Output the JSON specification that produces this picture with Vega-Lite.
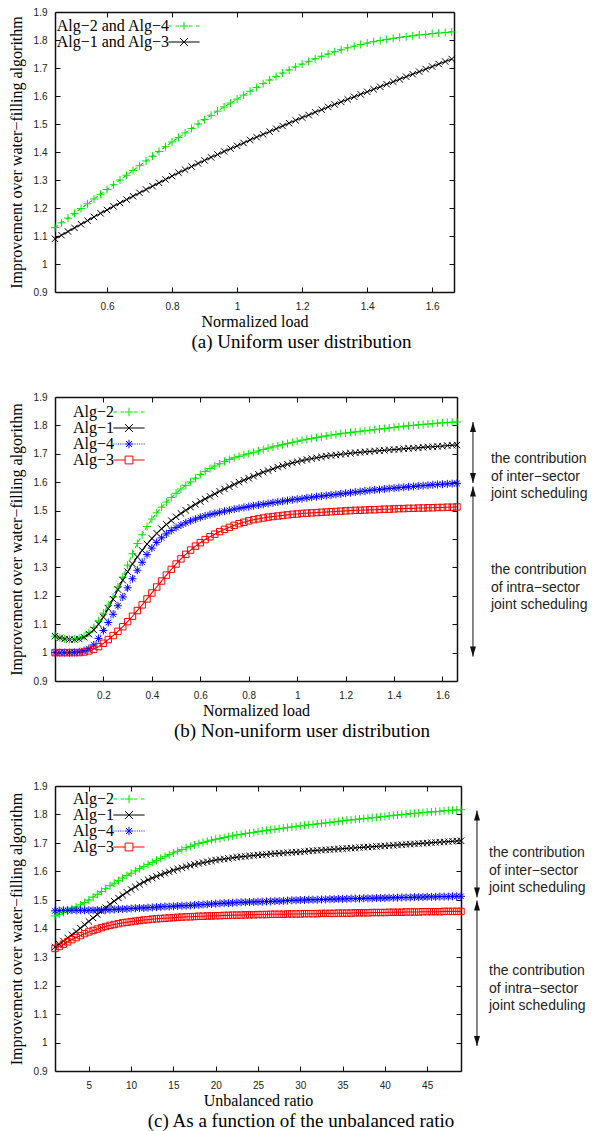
{
  "$schema": "https://vega.github.io/schema/vega-lite/v6.json",
  "padding": {"left": 8, "top": 7, "right": 0, "bottom": 0},
  "spacing": 40,
  "resolve": {"scale": {"color": "independent", "shape": "independent", "strokeDash": "independent"}, "legend": {"color": "independent", "shape": "independent"}},
  "config": {
    "view": {"stroke": null},
    "axis": {"grid": false, "domainColor": "#111", "domainWidth": 1.5, "tickColor": "#111", "tickWidth": 1, "tickSize": -5, "labelFont": "Liberation Sans", "labelFontSize": 10, "labelColor": "#222", "titleFont": "Liberation Serif", "titleFontSize": 16, "titleFontWeight": "normal", "titleColor": "black"},
    "axisBottom": {"labelPadding": 14, "titlePadding": 2},
    "axisLeft": {"labelPadding": 13, "titlePadding": 9},
    "title": {"font": "Liberation Serif", "fontSize": 19, "fontWeight": "normal", "color": "black"},
    "legend": {"labelFont": "Liberation Serif", "labelFontSize": 16, "labelColor": "black", "labelAlign": "right", "labelOffset": -23, "symbolSize": 169, "symbolStrokeWidth": 1, "padding": 0, "orient": "none", "labelLimit": 300, "rowPadding": -3}
  },
  "datasets": {
    "a": [
      {"x":0.44,"g":1.130,"k":1.090},{"x":0.46,"g":1.147,"k":1.103},{"x":0.48,"g":1.164,"k":1.116},{"x":0.5,"g":1.181,"k":1.129},{"x":0.52,"g":1.198,"k":1.142},{"x":0.54,"g":1.215,"k":1.155},{"x":0.56,"g":1.232,"k":1.168},{"x":0.58,"g":1.249,"k":1.181},{"x":0.6,"g":1.266,"k":1.193},{"x":0.62,"g":1.283,"k":1.206},{"x":0.64,"g":1.3,"k":1.218},{"x":0.66,"g":1.317,"k":1.23},{"x":0.68,"g":1.334,"k":1.242},{"x":0.7,"g":1.351,"k":1.254},{"x":0.72,"g":1.368,"k":1.266},{"x":0.74,"g":1.385,"k":1.278},{"x":0.76,"g":1.402,"k":1.29},{"x":0.78,"g":1.419,"k":1.302},{"x":0.8,"g":1.436,"k":1.314},{"x":0.82,"g":1.452,"k":1.326},{"x":0.84,"g":1.468,"k":1.337},{"x":0.86,"g":1.484,"k":1.348},{"x":0.88,"g":1.5,"k":1.359},{"x":0.9,"g":1.516,"k":1.37},{"x":0.92,"g":1.531,"k":1.381},{"x":0.94,"g":1.546,"k":1.391},{"x":0.96,"g":1.561,"k":1.402},{"x":0.98,"g":1.575,"k":1.412},{"x":1,"g":1.589,"k":1.422},{"x":1.02,"g":1.603,"k":1.432},{"x":1.04,"g":1.617,"k":1.443},{"x":1.06,"g":1.63,"k":1.453},{"x":1.08,"g":1.644,"k":1.463},{"x":1.1,"g":1.657,"k":1.473},{"x":1.12,"g":1.67,"k":1.483},{"x":1.14,"g":1.682,"k":1.493},{"x":1.16,"g":1.693,"k":1.503},{"x":1.18,"g":1.704,"k":1.513},{"x":1.2,"g":1.714,"k":1.523},{"x":1.22,"g":1.724,"k":1.532},{"x":1.24,"g":1.733,"k":1.542},{"x":1.26,"g":1.742,"k":1.551},{"x":1.28,"g":1.75,"k":1.561},{"x":1.3,"g":1.758,"k":1.57},{"x":1.32,"g":1.765,"k":1.579},{"x":1.34,"g":1.772,"k":1.588},{"x":1.36,"g":1.778,"k":1.597},{"x":1.38,"g":1.784,"k":1.606},{"x":1.4,"g":1.789,"k":1.615},{"x":1.42,"g":1.794,"k":1.624},{"x":1.44,"g":1.798,"k":1.633},{"x":1.46,"g":1.802,"k":1.642},{"x":1.48,"g":1.806,"k":1.651},{"x":1.5,"g":1.809,"k":1.66},{"x":1.52,"g":1.812,"k":1.669},{"x":1.54,"g":1.815,"k":1.678},{"x":1.56,"g":1.818,"k":1.687},{"x":1.58,"g":1.82,"k":1.696},{"x":1.6,"g":1.823,"k":1.705},{"x":1.62,"g":1.825,"k":1.714},{"x":1.64,"g":1.827,"k":1.723},{"x":1.66,"g":1.829,"k":1.732}
    ],
    "b": [
      {"x":0,"g":1.058,"k":1.058,"u":1.0,"r":1.0},{"x":0.02,"g":1.052,"k":1.052,"u":1.0,"r":1.0},{"x":0.04,"g":1.048,"k":1.048,"u":1.0,"r":1.0},{"x":0.06,"g":1.046,"k":1.046,"u":1.0,"r":1.0},{"x":0.08,"g":1.047,"k":1.046,"u":1.001,"r":1.0},{"x":0.1,"g":1.05,"k":1.048,"u":1.003,"r":1.0},{"x":0.12,"g":1.057,"k":1.054,"u":1.007,"r":1.002},{"x":0.14,"g":1.07,"k":1.065,"u":1.014,"r":1.006},{"x":0.16,"g":1.088,"k":1.08,"u":1.027,"r":1.012},{"x":0.18,"g":1.112,"k":1.1,"u":1.05,"r":1.021},{"x":0.2,"g":1.139,"k":1.125,"u":1.078,"r":1.033},{"x":0.22,"g":1.167,"k":1.155,"u":1.106,"r":1.046},{"x":0.24,"g":1.196,"k":1.188,"u":1.135,"r":1.06},{"x":0.26,"g":1.231,"k":1.222,"u":1.165,"r":1.075},{"x":0.28,"g":1.266,"k":1.255,"u":1.196,"r":1.091},{"x":0.3,"g":1.308,"k":1.285,"u":1.228,"r":1.109},{"x":0.32,"g":1.348,"k":1.312,"u":1.26,"r":1.128},{"x":0.34,"g":1.384,"k":1.337,"u":1.29,"r":1.148},{"x":0.36,"g":1.415,"k":1.36,"u":1.318,"r":1.168},{"x":0.38,"g":1.444,"k":1.382,"u":1.345,"r":1.189},{"x":0.4,"g":1.47,"k":1.402,"u":1.368,"r":1.21},{"x":0.42,"g":1.492,"k":1.42,"u":1.388,"r":1.231},{"x":0.44,"g":1.512,"k":1.436,"u":1.404,"r":1.252},{"x":0.46,"g":1.53,"k":1.451,"u":1.418,"r":1.273},{"x":0.48,"g":1.546,"k":1.465,"u":1.43,"r":1.293},{"x":0.5,"g":1.561,"k":1.478,"u":1.44,"r":1.312},{"x":0.52,"g":1.576,"k":1.49,"u":1.449,"r":1.33},{"x":0.54,"g":1.589,"k":1.501,"u":1.457,"r":1.346},{"x":0.56,"g":1.601,"k":1.512,"u":1.464,"r":1.361},{"x":0.58,"g":1.614,"k":1.522,"u":1.47,"r":1.375},{"x":0.6,"g":1.627,"k":1.532,"u":1.476,"r":1.387},{"x":0.62,"g":1.638,"k":1.541,"u":1.481,"r":1.398},{"x":0.64,"g":1.648,"k":1.55,"u":1.486,"r":1.408},{"x":0.66,"g":1.657,"k":1.559,"u":1.49,"r":1.417},{"x":0.68,"g":1.665,"k":1.568,"u":1.494,"r":1.426},{"x":0.7,"g":1.673,"k":1.576,"u":1.498,"r":1.434},{"x":0.72,"g":1.68,"k":1.584,"u":1.501,"r":1.441},{"x":0.74,"g":1.686,"k":1.592,"u":1.505,"r":1.448},{"x":0.76,"g":1.691,"k":1.6,"u":1.508,"r":1.454},{"x":0.78,"g":1.696,"k":1.607,"u":1.511,"r":1.459},{"x":0.8,"g":1.7,"k":1.614,"u":1.514,"r":1.464},{"x":0.82,"g":1.705,"k":1.621,"u":1.517,"r":1.468},{"x":0.84,"g":1.71,"k":1.628,"u":1.52,"r":1.471},{"x":0.86,"g":1.715,"k":1.635,"u":1.522,"r":1.474},{"x":0.88,"g":1.72,"k":1.641,"u":1.525,"r":1.477},{"x":0.9,"g":1.724,"k":1.647,"u":1.528,"r":1.479},{"x":0.92,"g":1.728,"k":1.653,"u":1.53,"r":1.481},{"x":0.94,"g":1.732,"k":1.658,"u":1.533,"r":1.483},{"x":0.96,"g":1.736,"k":1.663,"u":1.535,"r":1.485},{"x":0.98,"g":1.74,"k":1.668,"u":1.538,"r":1.487},{"x":1,"g":1.744,"k":1.672,"u":1.54,"r":1.488},{"x":1.02,"g":1.748,"k":1.676,"u":1.542,"r":1.49},{"x":1.04,"g":1.751,"k":1.68,"u":1.545,"r":1.491},{"x":1.06,"g":1.754,"k":1.683,"u":1.547,"r":1.492},{"x":1.08,"g":1.757,"k":1.686,"u":1.549,"r":1.493},{"x":1.1,"g":1.76,"k":1.689,"u":1.551,"r":1.494},{"x":1.12,"g":1.763,"k":1.692,"u":1.553,"r":1.495},{"x":1.14,"g":1.766,"k":1.694,"u":1.555,"r":1.496},{"x":1.16,"g":1.768,"k":1.696,"u":1.557,"r":1.497},{"x":1.18,"g":1.771,"k":1.698,"u":1.559,"r":1.498},{"x":1.2,"g":1.773,"k":1.7,"u":1.561,"r":1.499},{"x":1.22,"g":1.775,"k":1.702,"u":1.563,"r":1.5},{"x":1.24,"g":1.777,"k":1.704,"u":1.565,"r":1.501},{"x":1.26,"g":1.779,"k":1.705,"u":1.567,"r":1.501},{"x":1.28,"g":1.781,"k":1.707,"u":1.569,"r":1.502},{"x":1.3,"g":1.783,"k":1.708,"u":1.571,"r":1.503},{"x":1.32,"g":1.785,"k":1.71,"u":1.573,"r":1.503},{"x":1.34,"g":1.787,"k":1.711,"u":1.574,"r":1.504},{"x":1.36,"g":1.789,"k":1.712,"u":1.576,"r":1.505},{"x":1.38,"g":1.791,"k":1.714,"u":1.578,"r":1.505},{"x":1.4,"g":1.793,"k":1.715,"u":1.579,"r":1.506},{"x":1.42,"g":1.795,"k":1.716,"u":1.581,"r":1.507},{"x":1.44,"g":1.797,"k":1.718,"u":1.582,"r":1.507},{"x":1.46,"g":1.799,"k":1.719,"u":1.584,"r":1.508},{"x":1.48,"g":1.8,"k":1.72,"u":1.585,"r":1.508},{"x":1.5,"g":1.802,"k":1.721,"u":1.587,"r":1.509},{"x":1.52,"g":1.803,"k":1.723,"u":1.588,"r":1.509},{"x":1.54,"g":1.805,"k":1.724,"u":1.589,"r":1.51},{"x":1.56,"g":1.806,"k":1.725,"u":1.591,"r":1.51},{"x":1.58,"g":1.808,"k":1.726,"u":1.592,"r":1.511},{"x":1.6,"g":1.809,"k":1.727,"u":1.593,"r":1.511},{"x":1.62,"g":1.81,"k":1.729,"u":1.594,"r":1.512},{"x":1.64,"g":1.811,"k":1.73,"u":1.595,"r":1.512},{"x":1.66,"g":1.812,"k":1.731,"u":1.596,"r":1.513}
    ],
    "c": [
      {"x":1,"g":1.444,"k":1.335,"u":1.462,"r":1.33},{"x":1.5,"g":1.45,"k":1.345,"u":1.463,"r":1.337},{"x":2,"g":1.456,"k":1.356,"u":1.464,"r":1.345},{"x":2.5,"g":1.462,"k":1.367,"u":1.464,"r":1.353},{"x":3,"g":1.469,"k":1.378,"u":1.464,"r":1.361},{"x":3.5,"g":1.476,"k":1.389,"u":1.464,"r":1.368},{"x":4,"g":1.483,"k":1.401,"u":1.464,"r":1.375},{"x":4.5,"g":1.491,"k":1.413,"u":1.464,"r":1.382},{"x":5,"g":1.5,"k":1.425,"u":1.464,"r":1.388},{"x":5.5,"g":1.51,"k":1.437,"u":1.464,"r":1.393},{"x":6,"g":1.52,"k":1.449,"u":1.465,"r":1.398},{"x":6.5,"g":1.53,"k":1.461,"u":1.465,"r":1.403},{"x":7,"g":1.54,"k":1.473,"u":1.466,"r":1.407},{"x":7.5,"g":1.55,"k":1.485,"u":1.466,"r":1.411},{"x":8,"g":1.559,"k":1.496,"u":1.467,"r":1.414},{"x":8.5,"g":1.568,"k":1.507,"u":1.468,"r":1.417},{"x":9,"g":1.577,"k":1.517,"u":1.468,"r":1.42},{"x":9.5,"g":1.586,"k":1.527,"u":1.469,"r":1.422},{"x":10,"g":1.594,"k":1.537,"u":1.47,"r":1.424},{"x":10.5,"g":1.602,"k":1.546,"u":1.471,"r":1.426},{"x":11,"g":1.61,"k":1.555,"u":1.472,"r":1.428},{"x":11.5,"g":1.618,"k":1.563,"u":1.472,"r":1.43},{"x":12,"g":1.625,"k":1.571,"u":1.473,"r":1.431},{"x":12.5,"g":1.632,"k":1.577,"u":1.474,"r":1.433},{"x":13,"g":1.639,"k":1.583,"u":1.475,"r":1.434},{"x":13.5,"g":1.646,"k":1.589,"u":1.476,"r":1.435},{"x":14,"g":1.652,"k":1.594,"u":1.477,"r":1.436},{"x":14.5,"g":1.659,"k":1.599,"u":1.477,"r":1.437},{"x":15,"g":1.665,"k":1.604,"u":1.478,"r":1.438},{"x":15.5,"g":1.671,"k":1.609,"u":1.479,"r":1.439},{"x":16,"g":1.677,"k":1.613,"u":1.48,"r":1.44},{"x":16.5,"g":1.683,"k":1.617,"u":1.48,"r":1.441},{"x":17,"g":1.688,"k":1.621,"u":1.481,"r":1.441},{"x":17.5,"g":1.693,"k":1.625,"u":1.482,"r":1.442},{"x":18,"g":1.698,"k":1.628,"u":1.483,"r":1.443},{"x":18.5,"g":1.702,"k":1.631,"u":1.484,"r":1.443},{"x":19,"g":1.706,"k":1.634,"u":1.485,"r":1.444},{"x":19.5,"g":1.71,"k":1.637,"u":1.486,"r":1.444},{"x":20,"g":1.713,"k":1.64,"u":1.487,"r":1.445},{"x":20.5,"g":1.716,"k":1.642,"u":1.488,"r":1.445},{"x":21,"g":1.719,"k":1.644,"u":1.489,"r":1.446},{"x":21.5,"g":1.722,"k":1.646,"u":1.489,"r":1.446},{"x":22,"g":1.725,"k":1.648,"u":1.49,"r":1.447},{"x":22.5,"g":1.728,"k":1.65,"u":1.491,"r":1.447},{"x":23,"g":1.73,"k":1.652,"u":1.492,"r":1.447},{"x":23.5,"g":1.733,"k":1.653,"u":1.492,"r":1.448},{"x":24,"g":1.735,"k":1.655,"u":1.493,"r":1.448},{"x":24.5,"g":1.737,"k":1.656,"u":1.493,"r":1.448},{"x":25,"g":1.74,"k":1.658,"u":1.494,"r":1.449},{"x":25.5,"g":1.742,"k":1.659,"u":1.494,"r":1.449},{"x":26,"g":1.744,"k":1.66,"u":1.495,"r":1.449},{"x":26.5,"g":1.746,"k":1.662,"u":1.495,"r":1.45},{"x":27,"g":1.748,"k":1.663,"u":1.496,"r":1.45},{"x":27.5,"g":1.75,"k":1.664,"u":1.496,"r":1.45},{"x":28,"g":1.752,"k":1.665,"u":1.497,"r":1.45},{"x":28.5,"g":1.754,"k":1.666,"u":1.498,"r":1.451},{"x":29,"g":1.756,"k":1.667,"u":1.499,"r":1.451},{"x":29.5,"g":1.758,"k":1.668,"u":1.499,"r":1.451},{"x":30,"g":1.76,"k":1.669,"u":1.5,"r":1.451},{"x":30.5,"g":1.762,"k":1.67,"u":1.5,"r":1.452},{"x":31,"g":1.764,"k":1.672,"u":1.501,"r":1.452},{"x":31.5,"g":1.765,"k":1.673,"u":1.501,"r":1.452},{"x":32,"g":1.767,"k":1.674,"u":1.501,"r":1.452},{"x":32.5,"g":1.769,"k":1.675,"u":1.502,"r":1.453},{"x":33,"g":1.77,"k":1.676,"u":1.502,"r":1.453},{"x":33.5,"g":1.772,"k":1.677,"u":1.503,"r":1.453},{"x":34,"g":1.774,"k":1.678,"u":1.503,"r":1.453},{"x":34.5,"g":1.776,"k":1.679,"u":1.504,"r":1.454},{"x":35,"g":1.778,"k":1.68,"u":1.504,"r":1.454},{"x":35.5,"g":1.78,"k":1.681,"u":1.504,"r":1.454},{"x":36,"g":1.781,"k":1.682,"u":1.505,"r":1.454},{"x":36.5,"g":1.783,"k":1.683,"u":1.505,"r":1.455},{"x":37,"g":1.784,"k":1.684,"u":1.505,"r":1.455},{"x":37.5,"g":1.786,"k":1.685,"u":1.506,"r":1.455},{"x":38,"g":1.787,"k":1.686,"u":1.506,"r":1.455},{"x":38.5,"g":1.789,"k":1.687,"u":1.506,"r":1.456},{"x":39,"g":1.79,"k":1.688,"u":1.507,"r":1.456},{"x":39.5,"g":1.792,"k":1.689,"u":1.507,"r":1.456},{"x":40,"g":1.793,"k":1.69,"u":1.507,"r":1.456},{"x":40.5,"g":1.795,"k":1.691,"u":1.508,"r":1.457},{"x":41,"g":1.797,"k":1.692,"u":1.508,"r":1.457},{"x":41.5,"g":1.798,"k":1.693,"u":1.508,"r":1.457},{"x":42,"g":1.8,"k":1.694,"u":1.509,"r":1.457},{"x":42.5,"g":1.801,"k":1.695,"u":1.509,"r":1.458},{"x":43,"g":1.803,"k":1.696,"u":1.509,"r":1.458},{"x":43.5,"g":1.804,"k":1.697,"u":1.51,"r":1.458},{"x":44,"g":1.805,"k":1.698,"u":1.51,"r":1.458},{"x":44.5,"g":1.807,"k":1.699,"u":1.51,"r":1.459},{"x":45,"g":1.808,"k":1.7,"u":1.511,"r":1.459},{"x":45.5,"g":1.809,"k":1.701,"u":1.511,"r":1.459},{"x":46,"g":1.81,"k":1.702,"u":1.511,"r":1.459},{"x":46.5,"g":1.811,"k":1.703,"u":1.512,"r":1.459},{"x":47,"g":1.813,"k":1.704,"u":1.512,"r":1.46},{"x":47.5,"g":1.814,"k":1.705,"u":1.512,"r":1.46},{"x":48,"g":1.815,"k":1.706,"u":1.513,"r":1.46},{"x":48.5,"g":1.816,"k":1.707,"u":1.513,"r":1.46},{"x":49,"g":1.817,"k":1.708,"u":1.513,"r":1.46}
    ],
    "arrB": [{"y1":1.812,"y2":1.597},{"y1":1.585,"y2":0.986}],
    "txtB": [{"t":["the contribution","of inter−sector","joint scheduling"],"y":1.682},{"t":["the contribution","of intra−sector","joint scheduling"],"y":1.291}],
    "arrC": [{"y1":1.814,"y2":1.509},{"y1":1.498,"y2":0.988}],
    "txtC": [{"t":["the contribution","of inter−sector","joint scheduling"],"y":1.664},{"t":["the contribution","of intra−sector","joint scheduling"],"y":1.251}]
  },
  "vconcat": [
    {
      "width": 399, "height": 280,
      "title": {"text": "(a) Uniform user distribution", "orient": "bottom", "dx": 47, "offset": 3.5},
      "resolve": {"scale": {"color": "independent", "shape": "independent", "strokeDash": "independent"}, "axis": {"x": "independent", "y": "independent"}},
      "layer": [
        {
          "data": {"name": "a"},
          "transform": [{"fold": ["g", "k"], "as": ["alg", "val"]}],
          "mark": {"type": "line", "strokeWidth": 1.1, "clip": false},
          "encoding": {
            "x": {"field": "x", "type": "quantitative", "scale": {"domain": [0.44, 1.667], "nice": false, "zero": false}, "axis": {"orient": "bottom", "values": [0.6, 0.8, 1, 1.2, 1.4, 1.6], "format": "~g", "title": "Normalized load"}},
            "y": {"field": "val", "type": "quantitative", "scale": {"domain": [0.9, 1.9], "nice": false, "zero": false}, "axis": {"orient": "left", "values": [0.9, 1, 1.1, 1.2, 1.3, 1.4, 1.5, 1.6, 1.7, 1.8, 1.9], "format": "~g", "title": "Improvement over water−filling algorithm"}},
            "color": {"field": "alg", "type": "nominal", "scale": {"domain": ["g", "k"], "range": ["#00e600", "#000000"]}, "legend": null},
            "strokeDash": {"field": "alg", "type": "nominal", "scale": {"domain": ["g", "k"], "range": [[4, 3], [1, 0]]}, "legend": null}
          }
        },
        {
          "data": {"name": "a"},
          "transform": [{"fold": ["g", "k"], "as": ["alg", "val"]}],
          "mark": {"type": "point", "filled": false, "strokeWidth": 1, "size": 64, "opacity": 1, "clip": false},
          "encoding": {
            "x": {"field": "x", "type": "quantitative", "axis": {"orient": "top", "values": [0.6, 0.8, 1, 1.2, 1.4, 1.6], "labels": false, "title": null}},
            "y": {"field": "val", "type": "quantitative", "axis": {"orient": "right", "values": [0.9, 1, 1.1, 1.2, 1.3, 1.4, 1.5, 1.6, 1.7, 1.8, 1.9], "labels": false, "title": null}},
            "color": {"field": "alg", "type": "nominal", "scale": {"domain": ["g", "k"], "range": ["#00e600", "#000000"]}, "legend": null},
            "shape": {"field": "alg", "type": "nominal", "scale": {"domain": ["g", "k"], "range": ["M-1,0H1M0,-1V1", "M-0.8,-0.8L0.8,0.8M-0.8,0.8L0.8,-0.8"]}, "legend": null}
          }
        },
        {
          "data": {"name": "a"},
          "transform": [{"fold": ["g", "k"], "as": ["alg", "val"]}, {"filter": "false"}],
          "mark": {"type": "point", "filled": false, "strokeWidth": 1, "opacity": 1},
          "encoding": {
            "x": {"field": "x", "type": "quantitative", "axis": null},
            "y": {"field": "val", "type": "quantitative", "axis": null},
            "color": {"field": "alg", "type": "nominal", "scale": {"domain": ["g", "k"], "range": ["#00e600", "#000000"]},
              "legend": {"title": null, "legendX": 121, "legendY": 6, "labelExpr": "datum.value == 'g' ? 'Alg−2 and Alg−4' : 'Alg−1 and Alg−3'"}},
            "shape": {"field": "alg", "type": "nominal", "scale": {"domain": ["g", "k"], "range": ["M-2.4,0H-1.85M-1.3,0H-0.75M0.75,0H1.3M1.85,0H2.4M-0.65,0H0.65M0,-0.65V0.65", "M-2.4,0H2.4M-0.6,-0.6L0.6,0.6M-0.6,0.6L0.6,-0.6"]}, "legend": {"title": null}}
          }
        }
      ]
    },
    {
      "width": 402, "height": 284,
      "title": {"text": "(b) Non-uniform user distribution", "orient": "bottom", "dx": 46, "offset": 3.5},
      "resolve": {"scale": {"color": "independent", "shape": "independent", "strokeDash": "independent"}, "axis": {"x": "independent", "y": "independent"}},
      "layer": [
        {
          "data": {"name": "b"},
          "transform": [{"fold": ["g", "k", "u", "r"], "as": ["alg", "val"]}],
          "mark": {"type": "line", "strokeWidth": 1.1, "clip": false},
          "encoding": {
            "x": {"field": "x", "type": "quantitative", "scale": {"domain": [0, 1.66], "nice": false, "zero": false}, "axis": {"orient": "bottom", "values": [0.2, 0.4, 0.6, 0.8, 1, 1.2, 1.4, 1.6], "format": "~g", "title": "Normalized load"}},
            "y": {"field": "val", "type": "quantitative", "scale": {"domain": [0.9, 1.9], "nice": false, "zero": false}, "axis": {"orient": "left", "values": [0.9, 1, 1.1, 1.2, 1.3, 1.4, 1.5, 1.6, 1.7, 1.8, 1.9], "format": "~g", "title": "Improvement over water−filling algorithm"}},
            "color": {"field": "alg", "type": "nominal", "scale": {"domain": ["g", "k", "u", "r"], "range": ["#00e600", "#000000", "#0000ff", "#ff0000"]}, "legend": null},
            "strokeDash": {"field": "alg", "type": "nominal", "scale": {"domain": ["g", "k", "u", "r"], "range": [[4, 3], [1, 0], [1, 3], [1, 0]]}, "legend": null}
          }
        },
        {
          "data": {"name": "b"},
          "transform": [{"fold": ["g", "k", "u", "r"], "as": ["alg", "val"]}],
          "mark": {"type": "point", "filled": false, "strokeWidth": 1, "size": 64, "opacity": 1, "clip": false},
          "encoding": {
            "x": {"field": "x", "type": "quantitative", "axis": {"orient": "top", "values": [0.2, 0.4, 0.6, 0.8, 1, 1.2, 1.4, 1.6], "labels": false, "title": null}},
            "y": {"field": "val", "type": "quantitative", "axis": {"orient": "right", "values": [0.9, 1, 1.1, 1.2, 1.3, 1.4, 1.5, 1.6, 1.7, 1.8, 1.9], "labels": false, "title": null}},
            "color": {"field": "alg", "type": "nominal", "scale": {"domain": ["g", "k", "u", "r"], "range": ["#00e600", "#000000", "#0000ff", "#ff0000"]}, "legend": null},
            "shape": {"field": "alg", "type": "nominal", "scale": {"domain": ["g", "k", "u", "r"], "range": ["M-1,0H1M0,-1V1", "M-0.8,-0.8L0.8,0.8M-0.8,0.8L0.8,-0.8", "M-1,0H1M0,-1V1M-0.7,-0.7L0.7,0.7M-0.7,0.7L0.7,-0.7", "M-0.8,-0.8H0.8V0.8H-0.8Z"]}, "legend": null}
          }
        },
        {
          "data": {"name": "b"},
          "transform": [{"fold": ["g", "k", "u", "r"], "as": ["alg", "val"]}, {"filter": "false"}],
          "mark": {"type": "point", "filled": false, "strokeWidth": 1, "opacity": 1},
          "encoding": {
            "x": {"field": "x", "type": "quantitative", "axis": null},
            "y": {"field": "val", "type": "quantitative", "axis": null},
            "color": {"field": "alg", "type": "nominal", "scale": {"domain": ["g", "k", "u", "r"], "range": ["#00e600", "#000000", "#0000ff", "#ff0000"]},
              "legend": {"title": null, "legendX": 66, "legendY": 7, "labelExpr": "datum.value == 'g' ? 'Alg−2' : datum.value == 'k' ? 'Alg−1' : datum.value == 'u' ? 'Alg−4' : 'Alg−3'"}},
            "shape": {"field": "alg", "type": "nominal", "scale": {"domain": ["g", "k", "u", "r"], "range": ["M-2.4,0H-1.85M-1.3,0H-0.75M0.75,0H1.3M1.85,0H2.4M-0.65,0H0.65M0,-0.65V0.65", "M-2.4,0H2.4M-0.6,-0.6L0.6,0.6M-0.6,0.6L0.6,-0.6", "M-2.4,0H-2.25M-2.05,0H-1.9M-1.7,0H-1.55M-1.35,0H-1.2M-1,0H-0.85M0.85,0H1M1.2,0H1.35M1.55,0H1.7M1.9,0H2.05M2.25,0H2.4M-0.65,0H0.65M0,-0.65V0.65M-0.46,-0.46L0.46,0.46M-0.46,0.46L0.46,-0.46", "M-2.4,0H-0.6M0.6,0H2.4M-0.6,-0.6H0.6V0.6H-0.6Z"]}, "legend": {"title": null}}
          }
        },
        {
          "data": {"name": "arrB"},
          "mark": {"type": "rule", "color": "#111", "strokeWidth": 1, "clip": false},
          "encoding": {"x": {"datum": 1.726, "type": "quantitative", "axis": null}, "y": {"field": "y1", "type": "quantitative", "axis": null}, "y2": {"field": "y2"}}
        },
        {
          "data": {"name": "arrB"},
          "mark": {"type": "point", "shape": "M0,0L-0.3,1L0.3,1Z", "filled": true, "color": "#111", "size": 400, "opacity": 1, "clip": false},
          "encoding": {"x": {"datum": 1.726, "type": "quantitative", "axis": null}, "y": {"field": "y1", "type": "quantitative", "axis": null}}
        },
        {
          "data": {"name": "arrB"},
          "mark": {"type": "point", "shape": "M0,0L-0.3,-1L0.3,-1Z", "filled": true, "color": "#111", "size": 400, "opacity": 1, "clip": false},
          "encoding": {"x": {"datum": 1.726, "type": "quantitative", "axis": null}, "y": {"field": "y2", "type": "quantitative", "axis": null}}
        },
        {
          "data": {"name": "txtB"},
          "mark": {"type": "text", "align": "left", "baseline": "middle", "font": "Liberation Sans", "fontSize": 14, "lineHeight": 17.6, "color": "#222", "clip": false},
          "encoding": {"x": {"datum": 1.8, "type": "quantitative", "axis": null}, "y": {"field": "y", "type": "quantitative", "axis": null}, "text": {"field": "t"}}
        }
      ]
    },
    {
      "width": 406, "height": 285,
      "title": {"text": "(c) As a function of the unbalanced ratio", "orient": "bottom", "dx": 43, "offset": 3.5},
      "resolve": {"scale": {"color": "independent", "shape": "independent", "strokeDash": "independent"}, "axis": {"x": "independent", "y": "independent"}},
      "layer": [
        {
          "data": {"name": "c"},
          "transform": [{"fold": ["g", "k", "u", "r"], "as": ["alg", "val"]}],
          "mark": {"type": "line", "strokeWidth": 1.1, "clip": false},
          "encoding": {
            "x": {"field": "x", "type": "quantitative", "scale": {"domain": [1, 49], "nice": false, "zero": false}, "axis": {"orient": "bottom", "values": [5, 10, 15, 20, 25, 30, 35, 40, 45], "format": "~g", "title": "Unbalanced ratio"}},
            "y": {"field": "val", "type": "quantitative", "scale": {"domain": [0.9, 1.9], "nice": false, "zero": false}, "axis": {"orient": "left", "values": [0.9, 1, 1.1, 1.2, 1.3, 1.4, 1.5, 1.6, 1.7, 1.8, 1.9], "format": "~g", "title": "Improvement over water−filling algorithm"}},
            "color": {"field": "alg", "type": "nominal", "scale": {"domain": ["g", "k", "u", "r"], "range": ["#00e600", "#000000", "#0000ff", "#ff0000"]}, "legend": null},
            "strokeDash": {"field": "alg", "type": "nominal", "scale": {"domain": ["g", "k", "u", "r"], "range": [[4, 3], [1, 0], [1, 3], [1, 0]]}, "legend": null}
          }
        },
        {
          "data": {"name": "c"},
          "transform": [{"fold": ["g", "k", "u", "r"], "as": ["alg", "val"]}],
          "mark": {"type": "point", "filled": false, "strokeWidth": 1, "size": 64, "opacity": 1, "clip": false},
          "encoding": {
            "x": {"field": "x", "type": "quantitative", "axis": {"orient": "top", "values": [5, 10, 15, 20, 25, 30, 35, 40, 45], "labels": false, "title": null}},
            "y": {"field": "val", "type": "quantitative", "axis": {"orient": "right", "values": [0.9, 1, 1.1, 1.2, 1.3, 1.4, 1.5, 1.6, 1.7, 1.8, 1.9], "labels": false, "title": null}},
            "color": {"field": "alg", "type": "nominal", "scale": {"domain": ["g", "k", "u", "r"], "range": ["#00e600", "#000000", "#0000ff", "#ff0000"]}, "legend": null},
            "shape": {"field": "alg", "type": "nominal", "scale": {"domain": ["g", "k", "u", "r"], "range": ["M-1,0H1M0,-1V1", "M-0.8,-0.8L0.8,0.8M-0.8,0.8L0.8,-0.8", "M-1,0H1M0,-1V1M-0.7,-0.7L0.7,0.7M-0.7,0.7L0.7,-0.7", "M-0.8,-0.8H0.8V0.8H-0.8Z"]}, "legend": null}
          }
        },
        {
          "data": {"name": "c"},
          "transform": [{"fold": ["g", "k", "u", "r"], "as": ["alg", "val"]}, {"filter": "false"}],
          "mark": {"type": "point", "filled": false, "strokeWidth": 1, "opacity": 1},
          "encoding": {
            "x": {"field": "x", "type": "quantitative", "axis": null},
            "y": {"field": "val", "type": "quantitative", "axis": null},
            "color": {"field": "alg", "type": "nominal", "scale": {"domain": ["g", "k", "u", "r"], "range": ["#00e600", "#000000", "#0000ff", "#ff0000"]},
              "legend": {"title": null, "legendX": 66, "legendY": 5, "labelExpr": "datum.value == 'g' ? 'Alg−2' : datum.value == 'k' ? 'Alg−1' : datum.value == 'u' ? 'Alg−4' : 'Alg−3'"}},
            "shape": {"field": "alg", "type": "nominal", "scale": {"domain": ["g", "k", "u", "r"], "range": ["M-2.4,0H-1.85M-1.3,0H-0.75M0.75,0H1.3M1.85,0H2.4M-0.65,0H0.65M0,-0.65V0.65", "M-2.4,0H2.4M-0.6,-0.6L0.6,0.6M-0.6,0.6L0.6,-0.6", "M-2.4,0H-2.25M-2.05,0H-1.9M-1.7,0H-1.55M-1.35,0H-1.2M-1,0H-0.85M0.85,0H1M1.2,0H1.35M1.55,0H1.7M1.9,0H2.05M2.25,0H2.4M-0.65,0H0.65M0,-0.65V0.65M-0.46,-0.46L0.46,0.46M-0.46,0.46L0.46,-0.46", "M-2.4,0H-0.6M0.6,0H2.4M-0.6,-0.6H0.6V0.6H-0.6Z"]}, "legend": {"title": null}}
          }
        },
        {
          "data": {"name": "arrC"},
          "mark": {"type": "rule", "color": "#111", "strokeWidth": 1, "clip": false},
          "encoding": {"x": {"datum": 50.89, "type": "quantitative", "axis": null}, "y": {"field": "y1", "type": "quantitative", "axis": null}, "y2": {"field": "y2"}}
        },
        {
          "data": {"name": "arrC"},
          "mark": {"type": "point", "shape": "M0,0L-0.3,1L0.3,1Z", "filled": true, "color": "#111", "size": 400, "opacity": 1, "clip": false},
          "encoding": {"x": {"datum": 50.89, "type": "quantitative", "axis": null}, "y": {"field": "y1", "type": "quantitative", "axis": null}}
        },
        {
          "data": {"name": "arrC"},
          "mark": {"type": "point", "shape": "M0,0L-0.3,-1L0.3,-1Z", "filled": true, "color": "#111", "size": 400, "opacity": 1, "clip": false},
          "encoding": {"x": {"datum": 50.89, "type": "quantitative", "axis": null}, "y": {"field": "y2", "type": "quantitative", "axis": null}}
        },
        {
          "data": {"name": "txtC"},
          "mark": {"type": "text", "align": "left", "baseline": "middle", "font": "Liberation Sans", "fontSize": 14, "lineHeight": 17.6, "color": "#222", "clip": false},
          "encoding": {"x": {"datum": 52.31, "type": "quantitative", "axis": null}, "y": {"field": "y", "type": "quantitative", "axis": null}, "text": {"field": "t"}}
        }
      ]
    }
  ]
}
